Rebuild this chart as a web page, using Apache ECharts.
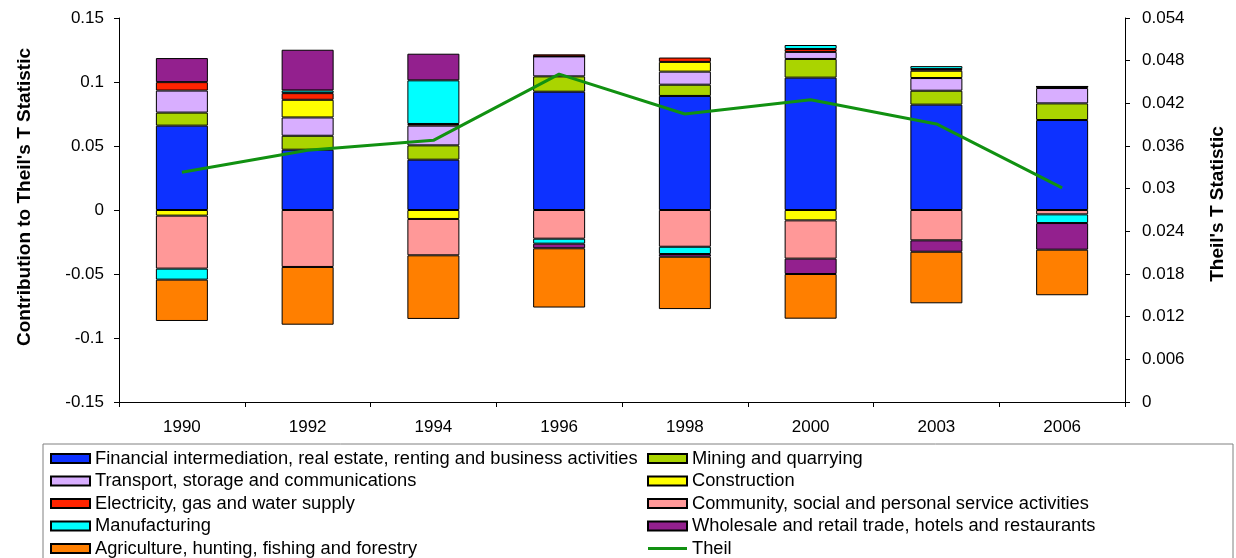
<!DOCTYPE html>
<html>
<head>
<meta charset="utf-8">
<title>Theil's T Statistic</title>
<script src="https://cdn.jsdelivr.net/npm/echarts@6/dist/echarts.min.js"></script>
<style>
  html, body { margin: 0; padding: 0; background: #fff; }
  #chart { width: 1236px; height: 558px; }
</style>
</head>
<body>
<div id="chart"></div>
<script>
// years on the x axis
var years = ['1990', '1992', '1994', '1996', '1998', '2000', '2003', '2006'];

// contributions by sector
var financial     = [0.0659, 0.0471, 0.0393, 0.0924, 0.0891, 0.1034, 0.0823, 0.0703];
var mining        = [0.0102, 0.0109, 0.0112, 0.0120, 0.0088, 0.0146, 0.0109, 0.0130];
var transport     = [0.0172, 0.0143, 0.0154, 0.0156, 0.0102, 0.0055, 0.0099, 0.0120];
var construction  = [-0.0044, 0.0138, -0.0070, 0, 0.0076, -0.0081, 0.0057, 0.0012];
var electricity   = [0.0066, 0.0052, 0.0013, 0.0016, 0.0034, 0.0023, 0.0013, 0];
var community     = [-0.0414, -0.0445, -0.0284, -0.0224, -0.0287, -0.0299, -0.0237, -0.0034];
var manufacturing = [-0.0086, 0.0021, 0.0341, -0.0039, -0.0057, 0.0031, 0.0023, -0.0068];
var wholesale     = [0.0188, 0.0318, 0.0208, -0.0036, -0.0021, -0.0120, -0.0089, -0.0208];
var agriculture   = [-0.0323, -0.0451, -0.0497, -0.0463, -0.0409, -0.0349, -0.0403, -0.0356];

// Theil's T (right axis)
var theil = [0.0323, 0.0354, 0.0368, 0.0461, 0.0405, 0.0425, 0.0391, 0.0301];

var FONT = '"Liberation Sans", Arial, sans-serif';

function bar(name, data, color) {
  return {
    name: name,
    type: 'bar',
    stack: 'total',
    barWidth: 52,
    data: data,
    itemStyle: { color: color, borderColor: '#000', borderWidth: 1 },
    emphasis: { disabled: true }
  };
}

var legendBase = {
  orient: 'vertical',
  top: 448,
  height: 130,
  padding: 0,
  itemWidth: 39,
  itemHeight: 9,
  itemGap: 1.5,
  icon: 'rect',
  textStyle: { fontFamily: FONT, fontSize: 18.3, color: '#000', lineHeight: 21 }
};

var chart = echarts.init(document.getElementById('chart'));

var option = {
  animation: false,
  textStyle: { fontFamily: FONT, color: '#000' },
  grid: { left: 119, right: 111, top: 18, bottom: 156 },
  graphic: [{
    type: 'rect',
    shape: { x: 43, y: 444, width: 1190, height: 130 },
    style: { fill: 'none', stroke: '#808080', lineWidth: 1 },
    silent: true
  }],
  legend: [
    Object.assign({}, legendBase, {
      left: 50,
      data: [
        'Financial intermediation, real estate, renting and business activities',
        'Transport, storage and communications',
        'Electricity, gas and water supply',
        'Manufacturing',
        'Agriculture, hunting, fishing and forestry'
      ]
    }),
    Object.assign({}, legendBase, {
      left: 647,
      data: [
        'Mining and quarrying',
        'Construction',
        'Community, social and personal service activities',
        'Wholesale and retail trade, hotels and restaurants',
        { name: 'Theil', icon: 'path://M0,0L40,0L40,3L0,3Z' }
      ]
    })
  ],
  xAxis: {
    type: 'category',
    data: years,
    axisLine: { onZero: false, lineStyle: { color: '#000' } },
    axisTick: { show: true, length: 5, lineStyle: { color: '#000' } },
    axisLabel: { fontSize: 17, color: '#000', margin: 17 }
  },
  yAxis: [{
    type: 'value',
    min: -0.15,
    max: 0.15,
    interval: 0.05,
    name: "Contribution to Theil's T Statistic",
    nameLocation: 'middle',
    nameGap: 85,
    nameTextStyle: { fontSize: 19, fontWeight: 'bold', color: '#000', padding: [0, 0, 0, 26] },
    axisLine: { show: true, lineStyle: { color: '#000' } },
    axisTick: { show: true, length: 5, lineStyle: { color: '#000' } },
    axisLabel: { fontSize: 17, color: '#000', margin: 15 },
    splitLine: { show: false }
  }, {
    type: 'value',
    position: 'right',
    min: 0,
    max: 0.054,
    interval: 0.006,
    name: "Theil's T Statistic",
    nameLocation: 'middle',
    nameGap: 83,
    nameTextStyle: { fontSize: 19, fontWeight: 'bold', color: '#000', padding: [0, 0, 0, 12] },
    axisLine: { show: true, lineStyle: { color: '#000' } },
    axisTick: { show: true, length: 5, lineStyle: { color: '#000' } },
    axisLabel: { fontSize: 17, color: '#000', margin: 17 },
    splitLine: { show: false }
  }],
  series: [
    bar('Financial intermediation, real estate, renting and business activities', financial, '#0D31FF'),
    bar('Mining and quarrying', mining, '#AAD400'),
    bar('Transport, storage and communications', transport, '#D8AEFF'),
    bar('Construction', construction, '#FFFF00'),
    bar('Electricity, gas and water supply', electricity, '#FF2400'),
    bar('Community, social and personal service activities', community, '#FF9898'),
    bar('Manufacturing', manufacturing, '#00FFFF'),
    bar('Wholesale and retail trade, hotels and restaurants', wholesale, '#93208E'),
    bar('Agriculture, hunting, fishing and forestry', agriculture, '#FF7F00'),
    {
      name: 'Theil',
      type: 'line',
      yAxisIndex: 1,
      data: theil,
      symbol: 'none',
      lineStyle: { color: '#119111', width: 3 },
      itemStyle: { color: '#119111' },
      z: 5
    }
  ]
};

chart.setOption(option);
</script>
</body>
</html>
